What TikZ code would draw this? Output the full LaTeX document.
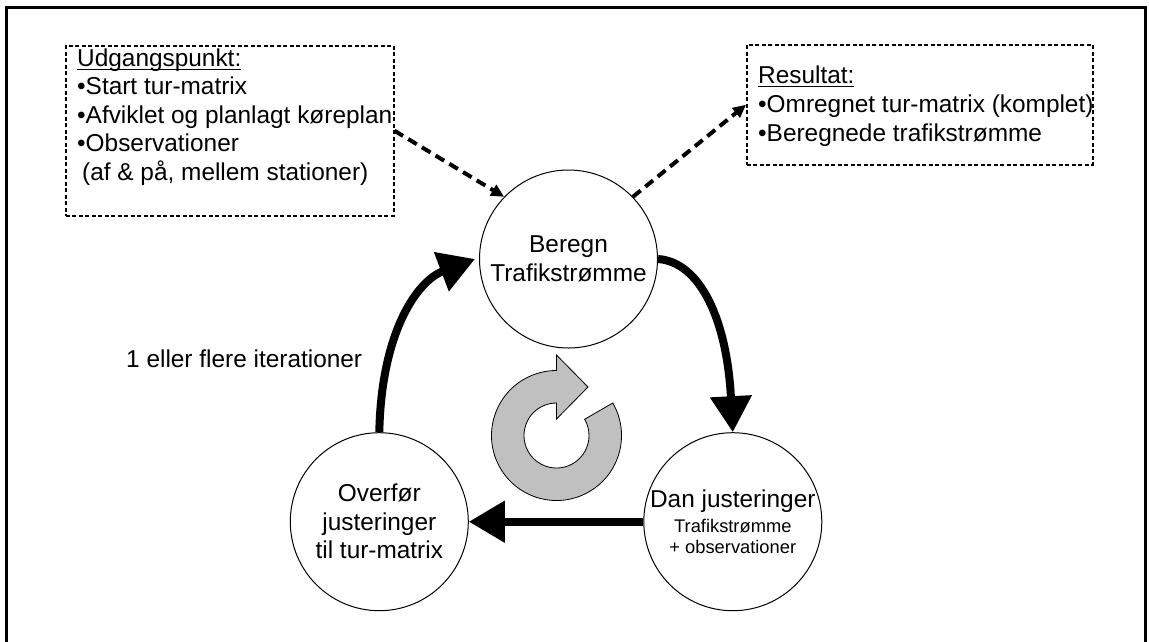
\documentclass[tikz,border=0pt]{standalone}
\usepackage{fontspec}
\setmainfont{Liberation Sans}
\usetikzlibrary{arrows.meta}
\newcommand\ulx[1]{\leavevmode\setbox0\hbox{#1}\rlap{\rule[-4pt]{\wd0}{1.5pt}}\box0}
\newcommand\smallfnt{\fontsize{18.3}{21.3}\selectfont}
\definecolor{ringgray}{RGB}{192,192,192}
\begin{document}
\begin{tikzpicture}[x=1pt,y=-1pt,
  bigfont/.style={font=\fontsize{24.4}{28.5}\selectfont},
  stage/.style={circle, draw, line width=1pt, minimum size=178pt, inner sep=0pt, align=center, bigfont, fill=white},
  infobox/.style={draw, line width=1.5pt, dash pattern=on 4pt off 2.5pt, inner sep=0pt, anchor=north west},
  infotext/.style={anchor=base west, inner sep=0pt, bigfont},
  flow/.style={line width=8pt, -{Triangle[length=36pt,width=40pt]}},
  link/.style={line width=4pt, dash pattern=on 10pt off 6pt, -{Triangle[length=13pt,width=12pt]}},
]
\useasboundingbox (0,0) rectangle (1149,641);
\draw[line width=2.6pt] (6.7,650) -- (6.7,7.3) -- (1145.6,7.3) -- (1145.6,650);

% info boxes
\node[infobox, minimum width=328pt, minimum height=170pt] (udg) at (65,45) {};
\node[infotext] (udgtext) at (77,66) {\parbox[t]{330pt}{\fontsize{24.4}{28.5}\selectfont
  \ulx{Udgangspunkt:}\\
  •Start tur-matrix\\
  •Afviklet og planlagt køreplan\\
  •Observationer\\
  \hspace*{5pt}(af \& på, mellem stationer)}};

\node[infobox, minimum width=346pt, minimum height=120pt] (res) at (746,44) {};
\node[infotext] (restext) at (758,83.3) {\parbox[t]{340pt}{\fontsize{24.4}{29}\selectfont
  \ulx{Resultat:}\\
  •Omregnet tur-matrix (komplet)\\
  •Beregnede trafikstrømme}};

% stages
\node[stage] (beregn) at (568.5,259) {Beregn\\[1pt]Trafikstrømme};
\node[stage] (overfor) at (379.3,521.7) {Overfør\\justeringer\\til tur-matrix};
\node[stage] (dan) at (732.8,521.7) {Dan justeringer\\[-4pt]\smallfnt Trafikstrømme\\[-7.2pt]\smallfnt + observationer};

% label
\node[infotext] (iter) at (126,367) {1 eller flere iterationer};

% flows
\draw[flow] (overfor.north) .. controls +(2,-100) and +(-58,22) .. ([xshift=-4pt]beregn.west);
\draw[flow] (beregn.east) .. controls +(42,3) and +(-6,-113) .. (dan.north);
\draw[flow] (dan.west) -- (overfor.east);

% dashed links
\draw[link] (udg.east) -- (beregn.136);
\draw[link] (beregn.44) -- (res.west);

% circular arrow
\filldraw[fill=ringgray, draw=black, line width=0.8pt]
  (612.8,403) arc[start angle=-30, end angle=270, radius=65]
  -- (556.5,355) -- (588,387) -- (556.5,419) -- (556.5,403)
  arc[start angle=270, end angle=-30, radius=32.5] -- cycle;
\end{tikzpicture}
\end{document}
